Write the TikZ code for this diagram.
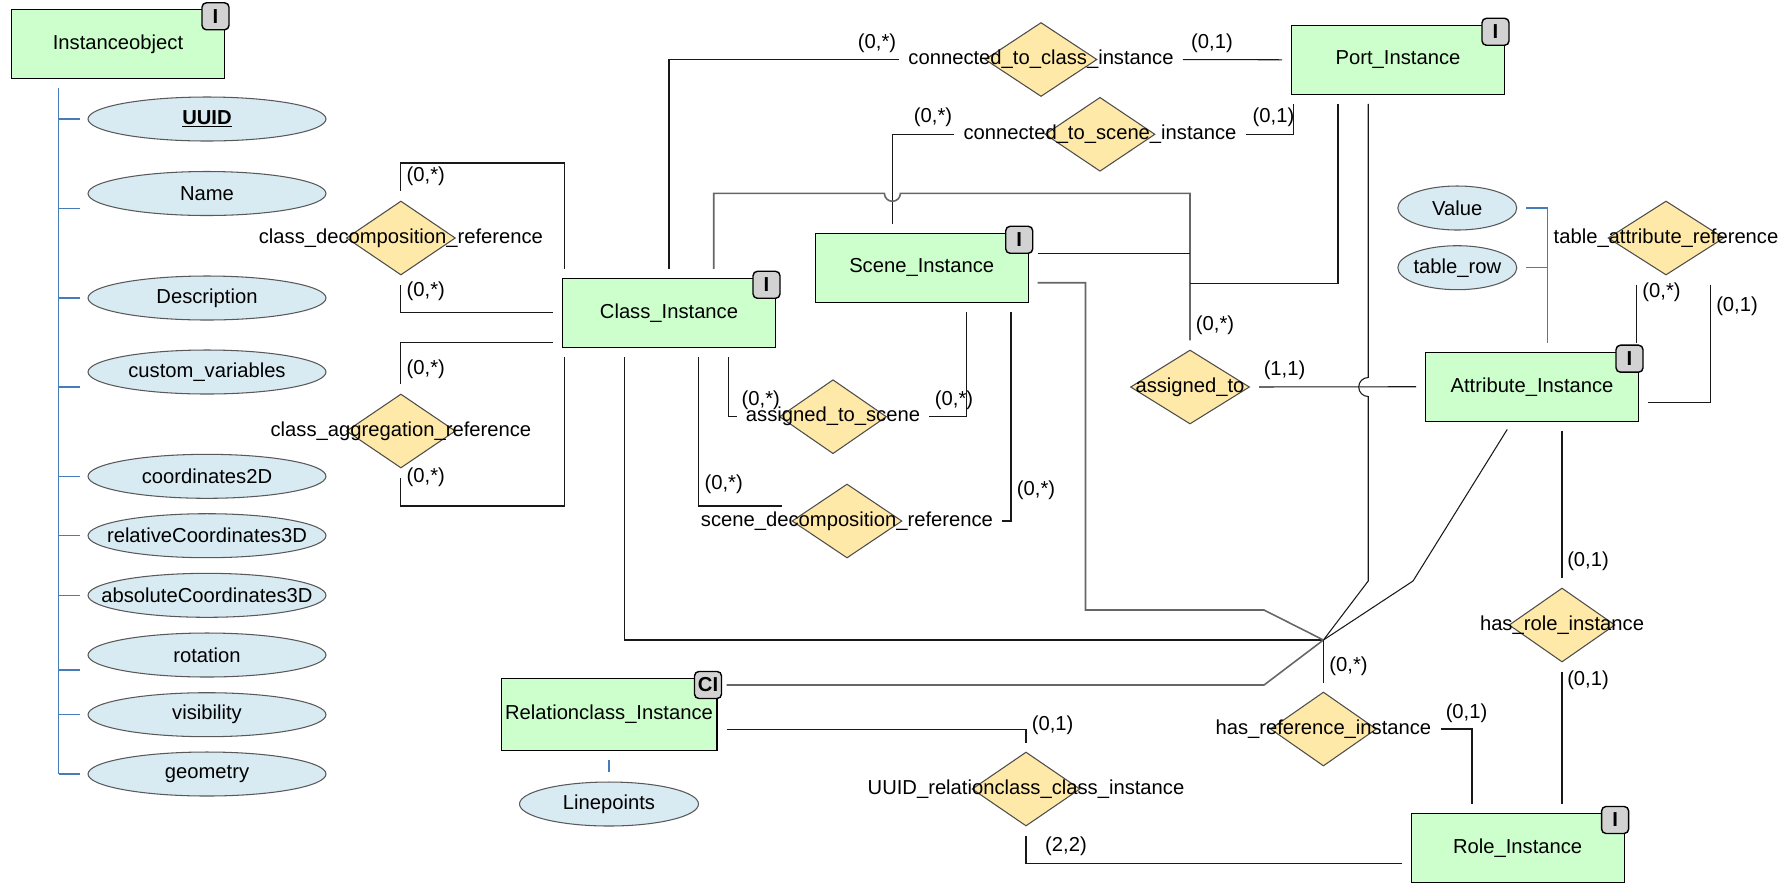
\documentclass[tikz,border=0pt]{standalone}
\usepackage{fontspec}
\setmainfont{Liberation Sans}
\usetikzlibrary{shapes.geometric,calc}
\definecolor{entgreen}{RGB}{204,255,204}
\definecolor{attrblue}{RGB}{216,234,242}
\definecolor{relyellow}{RGB}{255,233,168}
\definecolor{taggray}{RGB}{210,210,210}
\definecolor{linkblue}{RGB}{70,125,185}
\tikzset{
  ebox/.style  ={rectangle, draw=black, fill=entgreen, line width=0.6pt,
                 minimum width=4.26cm, minimum height=1.38cm, inner sep=0pt},
  tag/.style   ={rectangle, rounded corners=2.5pt, draw=black, fill=taggray, line width=0.8pt,
                 minimum size=0.54cm, inner sep=0pt, font=\bfseries\fontsize{11.5}{14}\selectfont},
  attr/.style  ={ellipse, draw=black!65, fill=attrblue, line width=0.6pt,
                 minimum width=4.76cm, minimum height=0.88cm, inner sep=0pt},
  rel/.style   ={diamond, draw=black!70, fill=relyellow, line width=0.6pt,
                 minimum height=1.48cm, inner sep=0pt},
  rlbl/.style  ={inner sep=0pt},
  card/.style  ={inner sep=0pt},
  flow/.style  ={line width=0.6pt, draw=black!90, shorten <=0.18cm, shorten >=0.18cm},
  flowg/.style ={flow, draw=black!60, line width=0.9pt},
  aflow/.style ={line width=0.6pt, draw=linkblue, shorten <=0.18cm, shorten >=0.18cm}
}
\begin{document}
\begin{tikzpicture}[x=0.02cm, y=-0.02cm, font=\fontsize{11.5}{14}\selectfont]
\useasboundingbox (0,0) rectangle (1780,887);
% entities
\node[ebox] (io) at (118,44.3) {Instanceobject};
\node[ebox] (ci) at (669,312.8) {Class\_Instance};
\node[ebox] (si) at (921.7,267.8) {Scene\_Instance};
\node[ebox] (pi) at (1398,59.8) {Port\_Instance};
\node[ebox] (ai) at (1532,386.7) {Attribute\_Instance};
\node[ebox, minimum width=4.32cm, minimum height=1.44cm] (rci) at (609,714.5) {Relationclass\_Instance};
\node[ebox] (ri) at (1517.6,848) {Role\_Instance};
\foreach \e/\t in {io/I, ci/I, si/I, pi/I, ai/I, ri/I, rci/CI}
  \node[tag] (tag\e) at ([xshift=-0.19cm, yshift=-0.14cm]\e.north east) {\t};
% attributes
\foreach \n/\y/\t in {uuid/119/{\underline{\textbf{UUID}}}, name/193.5/Name, desc/298/Description,
    cvar/372/custom\_variables, c2d/476.3/coordinates2D, rc3d/535.7/relativeCoordinates3D,
    ac3d/595.3/absoluteCoordinates3D, rot/655/rotation, vis/714.7/visibility, geo/774/geometry}
  \node[attr, label={center:\t}] (\n) at (207,\y) {};
\node[attr, minimum width=2.38cm, label={center:Value}] (value) at (1457.3,208) {};
\node[attr, minimum width=2.38cm, label={center:table\_row}] (trow) at (1457.3,267.7) {};
\node[attr, minimum width=3.58cm, label={center:Linepoints}] (lp) at (609,804) {};
% relationships
\foreach \n/\x/\y/\w/\t in {classdecomp/400.9/238/109/class\_decomposition\_reference,
    classaggr/400.9/431/109/class\_aggregation\_reference,
    conclass/1041/59.5/112/connected\_to\_class\_instance,
    conscene/1100/134.3/110/connected\_to\_scene\_instance,
    assignedscene/833/416.7/107/assigned\_to\_scene,
    scenedecomp/847/521/110/scene\_decomposition\_reference,
    assignedto/1190/387/119/assigned\_to,
    tabref/1666/238/116/table\_attribute\_reference,
    hasref/1323.4/729/106/has\_reference\_instance,
    hasrole/1562/625/106/has\_role\_instance,
    uuidrel/1026/789/108/UUID\_relationclass\_class\_instance}
{
  \node[rel, minimum width=\w*0.02cm] (\n) at (\x,\y) {};
  \node[rlbl] (\n-txt) at (\x,\y) {\t};
}
\coordinate (conv) at (1323.4,640);
% attribute links
\draw[aflow, shorten >=0pt] (58.6,0 |- io.south) -- (58.6,0 |- geo.west);
\foreach \e/\d in {uuid/0, name/15, desc/0, cvar/15, c2d/0, rc3d/0, ac3d/0, rot/15, vis/0, geo/0}
  \draw[aflow, shorten <=0pt, shorten >=0pt] (58.6,0 |- \e.west) ++(0,\d) -- ++(21,0);
\draw[aflow] (value.east) -| (1547.8,0 |- ai.north);
\draw[aflow, shorten >=0pt] (trow.east) -- (1547.8,0 |- trow.east);
\draw[aflow] (rci.south) -- (lp.north);
% class_decomposition / class_aggregation
\draw[flow] (564.5,0 |- ci.north) |- (400.9,163) -- (classdecomp.north);
\draw[flow] (ci.west) -| (classdecomp.south);
\draw[flow] (ci.west |- 0,342.3) -| (classaggr.north);
\draw[flow] (564.5,0 |- ci.south) |- (400.9,506) -- (classaggr.south);
% connected_to_class / connected_to_scene
\draw[flow] (ci.north) |- (conclass-txt.west);
\draw[flow] (conclass-txt.east) -- (pi.west);
\draw[flow] (892.4,0 |- si.north) |- (conscene-txt.west);
\draw[flow] (conscene-txt.east) -| (1293.8,0 |- pi.south);
% assigned_to
\draw[flowg] (713.7,0 |- ci.north) -- (713.7,193.3) -- (884.4,193.3)
  arc[start angle=180, end angle=0, radius=8] -- (1190,193.3) -- (assignedto.north);
\draw[flow, shorten >=0pt] (si.east |- 0,253.3) -- (1190,253.3);
\draw[flow, shorten >=0pt] (1338,0 |- pi.south) |- (1190,283.3);
\draw[flow] (assignedto.east) -- (ai.west);
% has_reference_instance
\draw[flow, shorten >=0pt] (1368.2,0 |- pi.south) -- (1368.2,377.5)
  arc[start angle=270, end angle=90, radius=9.5] -- (1368.2,581) -- (conv);
\draw[flow, shorten >=0pt] (624.3,0 |- ci.south) |- (conv);
\draw[flowg, shorten >=0pt] (si.east |- 0,282.7) -| (1085.5,610) -- (1264,610) -- (conv);
\draw[flow, shorten >=0pt] (1512,0 |- ai.south) -- (1413,581) -- (conv);
\draw[flowg, shorten >=0pt] (rci.east |- 0,685) -- (1264,685) -- (conv);
\draw[flow, shorten <=0pt] (conv) -- (hasref.north);
\draw[flow] (hasref-txt.east) -| (1472,0 |- ri.north);
% UUID_relationclass_class_instance
\draw[flow] (rci.east |- 0,729.3) -| (uuidrel.north);
\draw[flow] (uuidrel.south) |- (ri.west |- 0,863.3);
% has_role_instance
\draw[flow] (1562,0 |- ai.south) -- (hasrole.north);
\draw[flow] (hasrole.south) -- (1562,0 |- ri.north);
% table_attribute_reference
\draw[flow] (1636,0 |- tabref.south) -- (1636,0 |- ai.north);
\draw[flow] (1710.5,0 |- tabref.south) |- (ai.east |- 0,402.3);
% assigned_to_scene / scene_decomposition
\draw[flow] (728.2,0 |- ci.south) |- (assignedscene-txt.west);
\draw[flow] (assignedscene-txt.east) -| (966.7,0 |- si.south);
\draw[flow] (698.4,0 |- ci.south) |- (scenedecomp.west |- 0,506);
\draw[flow] (scenedecomp-txt.east) -| (1011,0 |- si.south);
% cardinalities
\foreach \x/\y/\t [count=\i] in {425.8/176.7/{(0,*)}, 425.8/291/{(0,*)}, 425.8/369.3/{(0,*)},
    425.8/477.7/{(0,*)}, 877/43.3/{(0,*)}, 1212/43.3/{(0,1)}, 933/117.3/{(0,*)},
    1273.5/117.3/{(0,1)}, 1215/325/{(0,*)}, 1284.5/370.7/{(1,1)}, 760.8/400/{(0,*)},
    954/400/{(0,*)}, 723.7/484.3/{(0,*)}, 1036/490/{(0,*)}, 1661.5/292.3/{(0,*)},
    1737/306/{(0,1)}, 1348.5/666.7/{(0,*)}, 1466.5/713.3/{(0,1)}, 1588/561.7/{(0,1)},
    1588/680/{(0,1)}, 1052.6/725/{(0,1)}, 1066/846.7/{(2,2)}}
  \node[card] (card\i) at (\x,\y) {\t};
\end{tikzpicture}
\end{document}
